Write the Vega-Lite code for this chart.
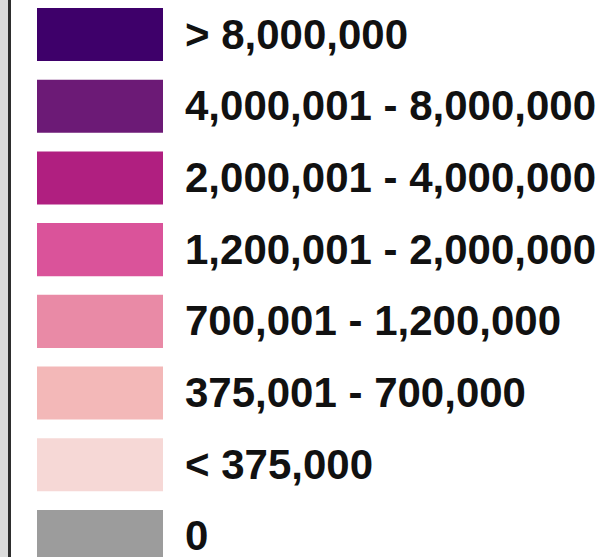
{
  "$schema": "https://vega.github.io/schema/vega-lite/v6.json",
  "width": 615,
  "height": 557,
  "autosize": "none",
  "padding": 0,
  "background": "#ffffff",
  "config": {"view": {"stroke": null}},
  "data": {
    "values": [
      {"order": 1, "label": "> 8,000,000"},
      {"order": 2, "label": "4,000,001 - 8,000,000"},
      {"order": 3, "label": "2,000,001 - 4,000,000"},
      {"order": 4, "label": "1,200,001 - 2,000,000"},
      {"order": 5, "label": "700,001 - 1,200,000"},
      {"order": 6, "label": "375,001 - 700,000"},
      {"order": 7, "label": "< 375,000"},
      {"order": 8, "label": "0"}
    ]
  },
  "layer": [
    {
      "mark": {"type": "rect", "color": "#dcdcdc"},
      "encoding": {
        "x": {"datum": 0, "type": "quantitative", "scale": {"domain": [0, 615], "range": [0, 615], "nice": false, "zero": false}, "axis": null},
        "x2": {"datum": 8}
      }
    },
    {
      "mark": {"type": "rule", "color": "#2e2e2e", "strokeWidth": 3},
      "encoding": {
        "x": {"datum": 9.5, "type": "quantitative", "axis": null}
      }
    },
    {
      "mark": {"type": "rect"},
      "encoding": {
        "y": {
          "field": "label",
          "type": "nominal",
          "sort": {"field": "order"},
          "scale": {"range": [8, 563], "paddingInner": 0.26, "paddingOuter": 0},
          "axis": null
        },
        "x": {"datum": 37, "type": "quantitative", "axis": null},
        "x2": {"datum": 163},
        "color": {
          "field": "label",
          "type": "nominal",
          "scale": {
            "domain": ["> 8,000,000", "4,000,001 - 8,000,000", "2,000,001 - 4,000,000", "1,200,001 - 2,000,000", "700,001 - 1,200,000", "375,001 - 700,000", "< 375,000", "0"],
            "range": ["#3e006a", "#6c1a76", "#b01f80", "#da539a", "#e98aa6", "#f3b8b8", "#f6d8d6", "#9c9c9c"]
          },
          "legend": null
        }
      }
    },
    {
      "mark": {"type": "text", "align": "left", "baseline": "middle", "font": "Liberation Sans", "fontWeight": "bold", "fontSize": 42, "color": "#111111", "dy": 1},
      "encoding": {
        "y": {"field": "label", "type": "nominal", "sort": {"field": "order"}},
        "x": {"datum": 185, "type": "quantitative"},
        "text": {"field": "label"}
      }
    }
  ]
}
